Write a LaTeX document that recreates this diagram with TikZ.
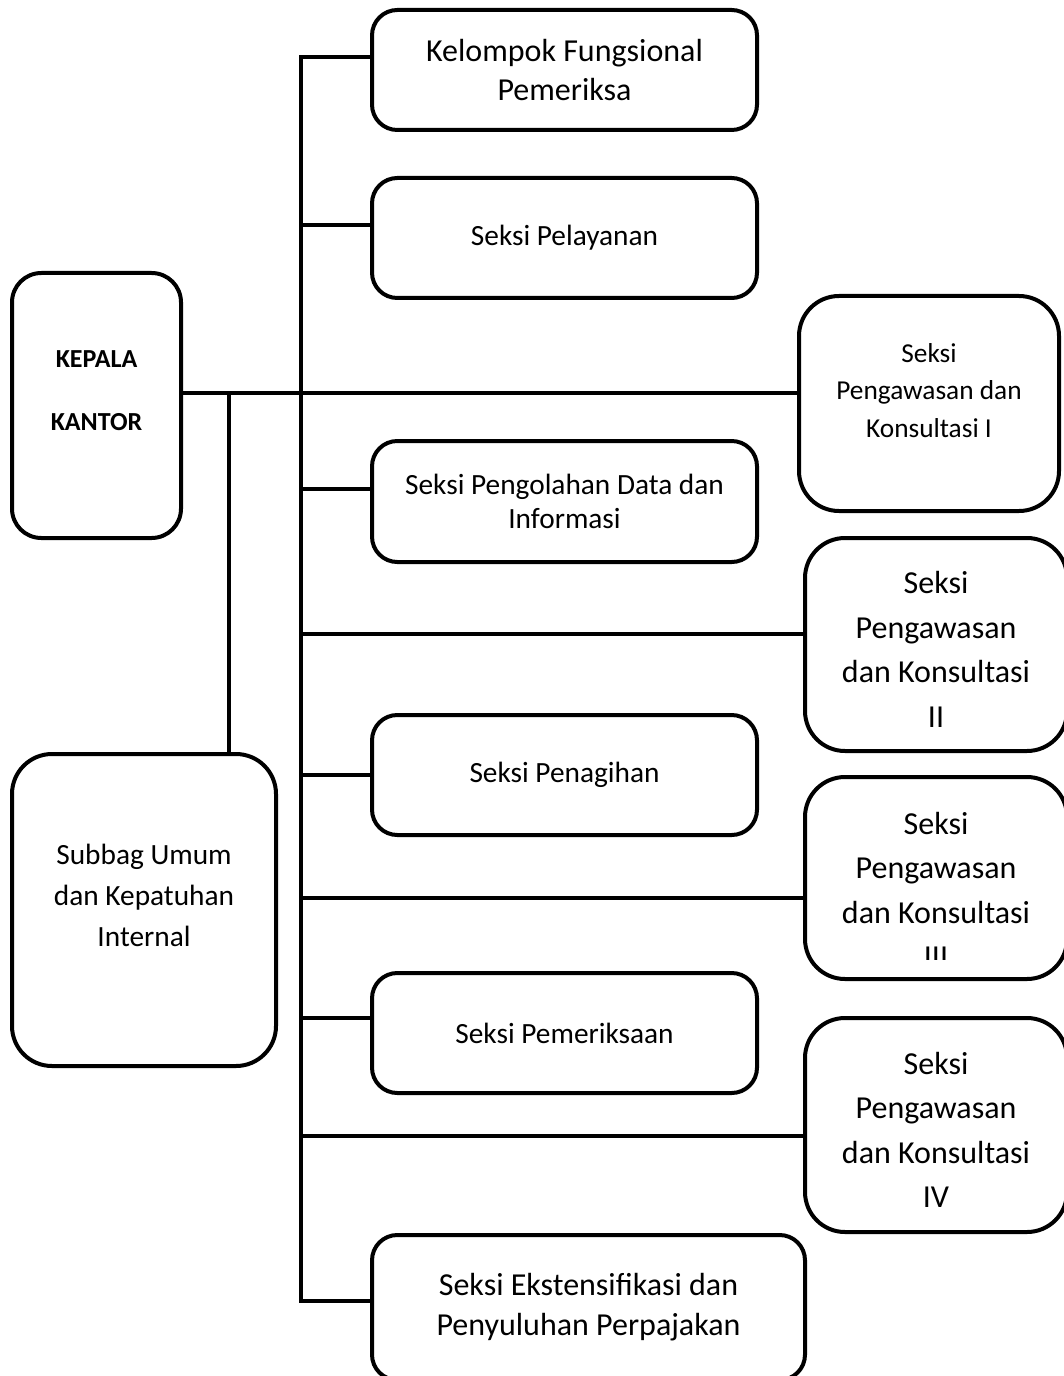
\documentclass[tikz,border=0pt]{standalone}
\usepackage{fontspec}
\setmainfont{Carlito}
\usepackage{tikz}
\usetikzlibrary{positioning,calc}
\newcommand\topstrut[1]{\rule{0pt}{#1}}
\tikzset{unit/.style={draw=black,line width=3pt,fill=white,align=center,inner sep=0pt}}
\tikzset{sz/.style n args={3}{minimum width=#1*0.75pt,minimum height=#2*0.75pt,rounded corners=#3}}
\tikzstyle{conn}=[line width=3.4pt,line join=miter]
\tikzstyle{med}=[font=\fontsize{22}{29}\selectfont]
\tikzstyle{big}=[font=\fontsize{24}{33.4}\selectfont]
\tikzstyle{sml}=[font=\fontsize{20.5}{28}\selectfont]

\begin{document}
\begin{tikzpicture}[x=0.75pt,y=-0.75pt]
\useasboundingbox (0,0) rectangle (1063,1376);
% left column
\node[unit,sz={169}{265}{22pt},font=\fontsize{19.5}{47}\selectfont\bfseries,text depth=22.5pt] (kk) at (96.5,405.5) {KEPALA\\KANTOR};
\node[unit,sz={264}{312}{30pt},font=\fontsize{22}{30.75}\selectfont,text depth=22.5pt] (sub) at (144,910) {Subbag Umum\\dan Kepatuhan\\Internal};
% middle column
\node[unit,sz={385}{120}{19pt},font=\fontsize{24}{29.25}\selectfont] (kfp) at (564.5,70) {Kelompok Fungsional\\Pemeriksa};
\node[unit,sz={385}{120}{19pt},med] (pel) at (564.5,238) {Seksi Pelayanan};
\node[unit,sz={385}{121}{19pt},font=\fontsize{22}{25.5}\selectfont] (pdi) at (564.5,501.5) {Seksi Pengolahan Data dan\\Informasi};
\node[unit,sz={385}{120}{19pt},med] (pen) at (564.5,775) {Seksi Penagihan};
\node[unit,sz={385}{120}{19pt},med] (pem) at (564.5,1033) {Seksi Pemeriksaan};
\node[unit,sz={433}{145}{19pt},font=\fontsize{24}{30}\selectfont] (eks) at (588.5,1307.5) {Seksi Ekstensifikasi dan\\Penyuluhan Perpajakan};
% right column
\node[unit,sz={260}{215}{30pt},sml,text depth=19.5pt] (pk1) at (929,403.5) {Seksi\\Pengawasan dan\\Konsultasi I};
\node[unit,sz={262}{213}{30pt},big] (pk2) at (936,644.5) {\topstrut{24pt}Seksi\\Pengawasan\\dan Konsultasi\\II};
\node[unit,sz={262}{202}{30pt},big] (pk3) at (936,878) {\topstrut{34.5pt}Seksi\\Pengawasan\\dan Konsultasi\\III};
\node[unit,sz={262}{214}{30pt},big] (pk4) at (936,1125) {\topstrut{24pt}Seksi\\Pengawasan\\dan Konsultasi\\IV};
\fill[white] ([shift={(-60,-21)}]pk3.south) rectangle ([shift={(60,-4)}]pk3.south);

% lines
\coordinate (top) at (301,57);
\coordinate (bot) at (301,1301);
\coordinate (hk) at (229,393);
\draw[conn] (kfp.west |- top) -- (top) -- (bot) -- (eks.west |- bot);
\foreach \n/\y in {pel/225,pdi/489,pk2/634,pen/775,pk3/898,pem/1018,pk4/1136}
  \draw[conn] (301,\y) -- (\n.west |- 0,\y);
\draw[conn] (kk.east |- hk) -- (pk1.west |- hk);
\draw[conn] (hk) -- (hk |- sub.north);
\end{tikzpicture}
\end{document}
